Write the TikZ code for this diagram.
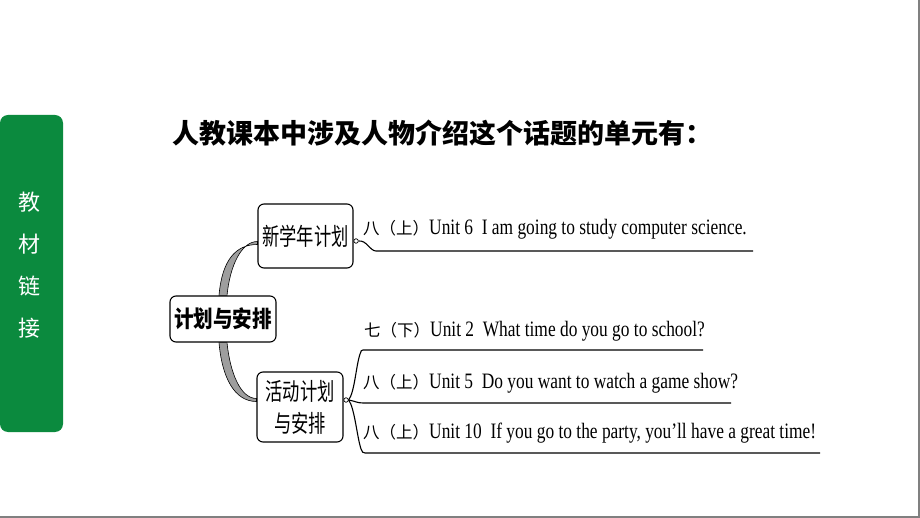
\documentclass[tikz,border=0pt]{standalone}
\usepackage{fontspec}
\setmainfont{Liberation Serif}[FakeStretch=0.79]
\newfontfamily\cjk{Noto Sans CJK SC}
\newfontfamily\cjknarrow{Noto Sans CJK SC}[FakeStretch=0.72]
\newfontfamily\cjkroot{Noto Sans CJK SC}[FakeStretch=0.85]
\usetikzlibrary{calc}
\definecolor{sidegreen}{RGB}{11,138,62}
\definecolor{edgegray}{RGB}{128,128,128}
\tikzset{
  mapbox/.style={draw=black, line width=1.1pt, rounded corners=6pt, inner sep=0pt, align=center},
  band/.style={fill=black!38, draw=black, line width=0.6pt},
  knot/.style={circle, draw=black, fill=white, line width=0.7pt, inner sep=0pt, minimum size=4.5pt},
  branch/.style={draw=black, line width=1.1pt},
  unittext/.style={anchor=base west, inner sep=0pt, font=\fontsize{22}{24}\selectfont},
}
\newcommand{\zh}[1]{{\cjk\fontsize{16.5}{18}\selectfont #1}}
\begin{document}
\begin{tikzpicture}[x=1pt,y=-1pt]
\useasboundingbox (0,0) rectangle (920,518);
\fill[white] (0,0) rectangle (920,518);
\draw[edgegray, line width=1.6pt] (919.2,0) -- (919.2,517.2) -- (0,517.2);

% side tab
\fill[sidegreen, rounded corners=8pt] (0,115) rectangle (63,432);
\node[text=white, align=center, inner sep=0pt, font=\cjk\fontsize{22}{42}\selectfont] (side) at (29,265) {教\\材\\链\\接};

% title
\node[anchor=west, inner sep=0pt, font=\cjk\bfseries\fontsize{27}{30}\selectfont] (title) at (172,133) {人教课本中涉及人物介绍这个话题的单元有：};

% mind map nodes
\node[mapbox, minimum width=106pt, minimum height=46pt, font=\cjkroot\bfseries\fontsize{23}{26}\selectfont] (root) at (223,319) {计划与安排};
\node[mapbox, minimum width=95pt, minimum height=64pt, font=\cjknarrow\fontsize{24}{26}\selectfont] (n1) at (305.5,236) {新学年计划};
\node[mapbox, minimum width=86pt, minimum height=70pt, font=\cjknarrow\fontsize{24}{32}\selectfont] (n2) at (300,407) {活动计划\\与安排};

% bands from root to children
\filldraw[band] ($(root.north)+(-4,0)$) .. controls +(3,-35) and +(-22,0) .. ($(n1.west)+(0,8.5)$)
  -- ($(n1.west)+(0,5.5)$) .. controls +(-16,0) and +(3,-30) .. ($(root.north)+(4,0)$) -- cycle;
\filldraw[band] ($(root.south)+(-4,0)$) .. controls +(3,35) and +(-22,0) .. ($(n2.west)+(0,-5.5)$)
  -- ($(n2.west)+(0,-8.5)$) .. controls +(-16,0) and +(3,30) .. ($(root.south)+(4,0)$) -- cycle;

% knots
\node[knot] (k1) at ($(n1.east)+(2.5,5)$) {};
\node[knot] (k2) at ($(n2.east)+(2.5,-7)$) {};

% underline ends
\coordinate (u1s) at (376,251);  \coordinate (u1e) at (753,251);
\coordinate (u2s) at (363,350);  \coordinate (u2e) at (703,350);
\coordinate (u3s) at (363,403);  \coordinate (u3e) at (731,403);
\coordinate (u4s) at (365,453);  \coordinate (u4e) at (820,453);

\draw[branch] (k1.east) .. controls +(8,-1) and +(-6,0) .. (u1s) -- (u1e);
\draw[branch] (k2.east) .. controls +(6,-8) and +(-4,12) .. ($(u2s)+(-3,4)$) .. controls +(2,-3) and +(-3,0) .. (u2s) -- (u2e);
\draw[branch] (k2.east) .. controls +(6,1) and +(-6,0) .. (u3s) -- (u3e);
\draw[branch] (k2.east) .. controls +(6,8) and +(-4,-12) .. ($(u4s)+(-4,-4)$) .. controls +(2,3) and +(-3,0) .. (u4s) -- (u4e);

% unit texts
\node[unittext] (t1) at (363,235) {\zh{八（上）}Unit 6~ I am going to study computer science.};
\node[unittext] (t2) at (364,336) {\zh{七（下）}Unit 2~ What time do you go to school?};
\node[unittext] (t3) at (363,388) {\zh{八（上）}Unit 5~ Do you want to watch a game show?};
\node[unittext] (t4) at (363,438) {\zh{八（上）}Unit 10~ If you go to the party, you’ll have a great time!};
\end{tikzpicture}
\end{document}
